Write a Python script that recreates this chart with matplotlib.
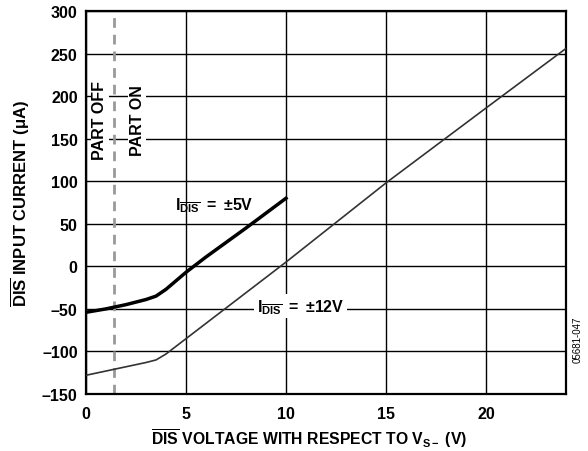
import numpy as np
import matplotlib.pyplot as plt

plt.rcParams['font.family'] = ['Liberation Sans', 'DejaVu Sans']
plt.rcParams['font.weight'] = 'bold'
plt.rcParams['mathtext.fontset'] = 'custom'
plt.rcParams['mathtext.rm'] = 'Liberation Sans:bold'
plt.rcParams['mathtext.bf'] = 'Liberation Sans:bold'
plt.rcParams['mathtext.it'] = 'Liberation Sans:bold'

# +-5V supply curve
v5 = [0, 1, 2, 3, 3.5, 4, 5, 6, 8, 10]
i5 = [-54, -50, -45, -39, -35, -27, -7, 11, 45, 80]
# +-12V supply curve
v12 = [0, 1, 2, 3, 3.5, 4, 5, 7, 10, 15, 20, 24]
i12 = [-128, -123, -118, -113, -110, -103, -85, -49, 5, 98, 186, 256]

x_ticks = [0, 5, 10, 15, 20]
y_ticks = [-150, -100, -50, 0, 50, 100, 150, 200, 250, 300]
part_threshold = 1.4

fig = plt.figure(figsize=(5.88, 4.52), dpi=100)
ax = fig.add_axes([86/588, 1 - 395/452, 480/588, 383/452])

ax.set_xlim(0, 24)
ax.set_ylim(-150, 300)
ax.set_xticks(x_ticks)
ax.set_yticks(y_ticks)
ax.set_yticklabels([str(t).replace('-', '\u2013') for t in y_ticks])
ax.tick_params(length=0, labelsize=11.5, pad=6)
ax.tick_params(axis='x', pad=9)
for lab in ax.get_xticklabels() + ax.get_yticklabels():
    lab.set_fontweight('bold')
ax.grid(True, color='black', linewidth=1.0)
ax.set_axisbelow(True)
for s in ax.spines.values():
    s.set_linewidth(1.6)

ax.axvline(part_threshold, color='#999999', linewidth=2, linestyle=(0, (3.5, 2.5)), zorder=2)

ax.plot(v12, i12, color='#333333', linewidth=1.2, zorder=3)
ax.plot(v5, i5, color='black', linewidth=2.5, zorder=3)

box = dict(facecolor='white', edgecolor='none', pad=1)
ax.text(0.7, 173, 'PART OFF', rotation=90, ha='center', va='center',
        fontsize=11.5, fontweight='bold', bbox=box, zorder=4)
ax.text(2.55, 173, 'PART ON', rotation=90, ha='center', va='center',
        fontsize=11.5, fontweight='bold', bbox=box, zorder=4)
ax.text(4.45, 72, r'$\mathrm{I}_{\overline{\mathrm{DIS}}}\ {=}\ {\pm}\mathrm{5V}$',
        ha='left', va='center', fontsize=11.5, zorder=4)
ax.text(8.55, -47, r'$\mathrm{I}_{\overline{\mathrm{DIS}}}\ {=}\ {\pm}\mathrm{12V}$',
        ha='left', va='center', fontsize=11.5,
        bbox=dict(facecolor='white', edgecolor='none', pad=2), zorder=4)

ax.set_xlabel(r'$\overline{\mathrm{DIS}}$ VOLTAGE WITH RESPECT TO V$_{\mathrm{S}-}$ (V)',
              fontsize=11.3, fontweight='bold')
ax.xaxis.set_label_coords(0.465, -0.083)
ax.set_ylabel(r'$\overline{\mathrm{DIS}}$ INPUT CURRENT ($\mu$A)',
              fontsize=12, fontweight='bold', labelpad=7)

fig.text(578/588, 1 - 340/452, '05681-047', rotation=90, ha='center', va='center',
         fontsize=7, fontweight='normal')

fig.savefig('out.png', dpi=100)
